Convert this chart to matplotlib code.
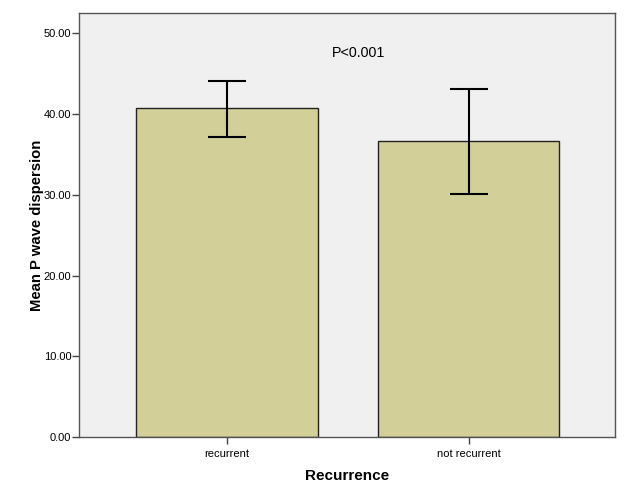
import matplotlib
matplotlib.use("Agg")
import matplotlib.pyplot as plt
import numpy as np

plt.rcParams['font.family'] = ['Liberation Sans', 'DejaVu Sans']

categories = ["recurrent", "not recurrent"]
means = [40.7, 36.6]
upper = [44.1, 43.1]
lower = [37.2, 30.1]
yticks = [0, 10, 20, 30, 40, 50]

fig = plt.figure(figsize=(6.29, 4.9), dpi=100)
ax = fig.add_axes([0.1256, 0.1076, 0.9777 - 0.1256, 0.9735 - 0.1076])
ax.set_facecolor('#F0F0F0')

x = np.arange(len(categories))
ax.bar(x, means, width=0.75, color='#D3CF98', edgecolor='#222222', linewidth=1.0, zorder=2)
yerr = np.array([[m - l for m, l in zip(means, lower)], [u - m for m, u in zip(means, upper)]])
ax.errorbar(x, means, yerr=yerr, fmt='none', ecolor='black', elinewidth=1.5, capsize=13.7, capthick=1.5, zorder=3)

ax.set_xlim(-0.613, 1.606)
ax.set_ylim(0, 52.5)
ax.set_yticks(yticks)
ax.set_yticklabels([f"{v:.2f}" for v in yticks], fontsize=8)
ax.set_xticks(x)
ax.set_xticklabels(categories, fontsize=8)
ax.tick_params(axis='both', direction='out', length=5, width=1, color='#444444')
ax.tick_params(axis='y', pad=0.5)
for s in ax.spines.values():
    s.set_color('#555555')
    s.set_linewidth(1.0)

ax.set_xlabel("Recurrence", fontsize=11, fontweight='bold', labelpad=7)
ax.set_ylabel("Mean P wave dispersion", fontsize=10.7, fontweight='bold', labelpad=0)
ax.text(0.545, 47.6, "P<0.001", fontsize=10.3, ha='center', va='center')

fig.savefig("out.png", dpi=100)
